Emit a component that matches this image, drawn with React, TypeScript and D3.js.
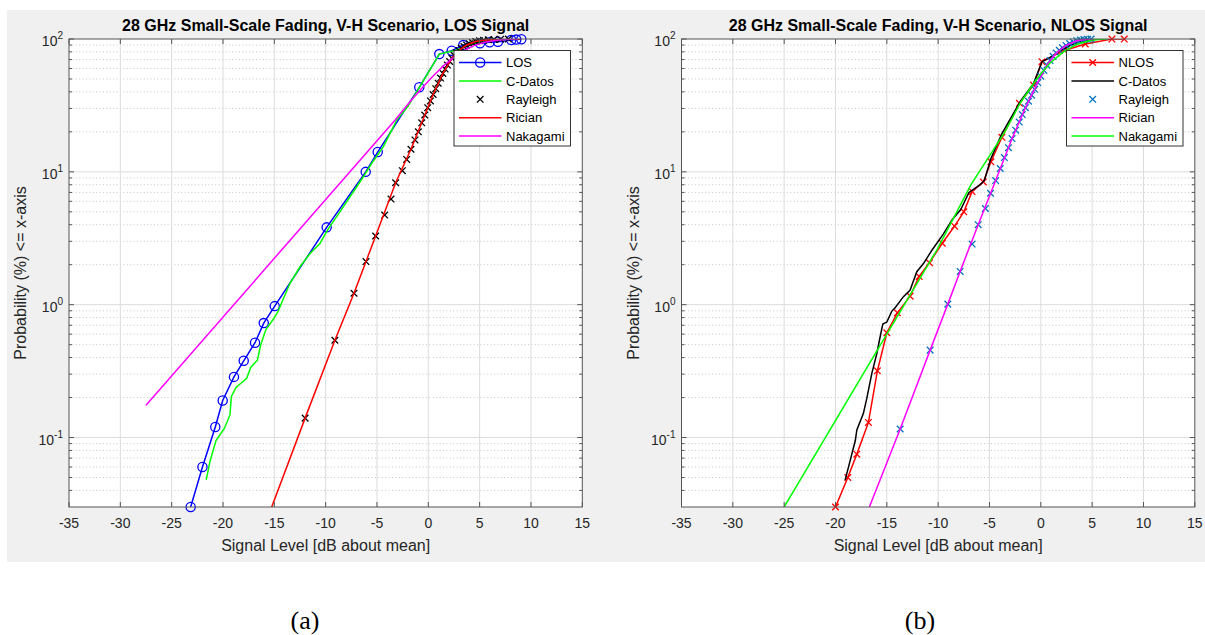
import React from 'react';
import * as d3 from 'd3';

// ---------- axes ----------
const xTicks = [-35, -30, -25, -20, -15, -10, -5, 0, 5, 10, 15];
const yMajorTicks = [0.1, 1, 10, 100];
const yTickExponents = ['-1', '0', '1', '2'];
const xDomain = [-35, 15];
const yDomain = [0.03, 100];

// ---------- (a) LOS ----------
const losX = [-23.15, -22.0, -20.75, -20.03, -18.93, -17.98, -16.88, -16.03, -14.96, -9.9, -6.1, -4.93, -0.88, 1.07, 2.28, 3.41, 5.04, 5.97, 6.78, 8.08, 8.57, 9.06];
const losP = [0.03, 0.06, 0.12, 0.19, 0.286, 0.378, 0.517, 0.727, 0.976, 3.82, 10.0, 14.1, 43.3, 77, 81.6, 90, 92.8, 94.4, 95.4, 98.3, 99, 99.6];

const cdLosX = [-21.63, -21.27, -20.68, -19.87, -19.32, -19.19, -18.73, -17.69, -17.3, -16.65, -16.33, -15.81, -15.03, -14.6, -14.12, -13.47, -12.5, -11.52, -10.55, -9.84, -8.93, -7.63, -6.33, -5.51, -4.38, -3.08, -2.0, -0.88, 1.07, 2.76, 4.0, 5.5, 7.0, 8.5];
const cdLosP = [0.048, 0.066, 0.095, 0.117, 0.148, 0.203, 0.238, 0.279, 0.337, 0.383, 0.497, 0.652, 0.79, 0.9, 1.11, 1.45, 1.93, 2.43, 2.89, 3.63, 4.6, 6.49, 9.18, 11.6, 15.5, 24.5, 31, 43, 77, 82.6, 91, 96.5, 99.3, 100];

const rayLosX = [-12.0, -9.1, -7.24, -6.07, -5.13, -4.25, -3.63, -3.18, -2.53, -2.11, -1.69, -1.3, -0.97, -0.64, -0.35, -0.06, 0.21, 0.47, 0.72, 0.96, 1.19, 1.42, 1.64, 1.86, 2.08, 2.3, 2.52, 2.75, 2.98, 3.22, 3.47, 3.73, 4.0, 4.3, 4.62, 4.98, 5.38, 5.85, 6.4, 7.05, 7.8];
const rayLosP = [0.14, 0.54, 1.22, 2.11, 3.29, 4.73, 6.24, 8.28, 10.2, 12.4, 14.8, 17.4, 20.0, 23.4, 26.8, 30.4, 34.2, 38.2, 42.3, 46.5, 50.8, 55.1, 59.4, 63.6, 67.7, 71.6, 75.3, 78.8, 82.0, 85.0, 87.7, 90.1, 92.2, 94.0, 95.6, 96.9, 97.9, 98.7, 99.3, 99.7, 99.9];

const ricLosX = [-15.4, -12.0, -9.1, -7.24, -5.13, -3.18, -1.69, -0.64, 0.47, 1.42, 2.3, 2.98, 3.73, 4.62, 5.38, 6.4, 7.8, 9.0];
const ricLosP = [0.028, 0.14, 0.54, 1.22, 3.29, 8.28, 14.8, 23.4, 38.2, 55.1, 71.6, 82.0, 90.1, 95.6, 97.9, 99.3, 99.9, 100];

const nakLosX = [-27.5, -3.25, -1.8, -0.7, 0.4, 1.5, 2.5, 3.5, 4.5, 5.5, 6.5, 7.5, 8.7];
const nakLosP = [0.175, 24.5, 33.5, 42, 52, 63, 73, 82, 89.5, 94.5, 97.5, 99.2, 100];

// ---------- (b) NLOS ----------
const nlosX = [-20.0, -18.8, -17.92, -16.79, -15.92, -15.0, -13.97, -12.73, -11.85, -10.85, -9.6, -8.4, -7.5, -6.7, -5.6, -4.86, -3.79, -2.08, -0.71, 0.11, 2.3, 4.33, 6.93, 8.13];
const nlosP = [0.03, 0.05, 0.075, 0.13, 0.318, 0.615, 0.869, 1.16, 1.63, 2.07, 2.9, 3.9, 5.0, 7.1, 8.4, 11.9, 18.2, 32.8, 45, 67.5, 82, 91.7, 99.9, 99.9];

const cdNlosX = [-19.06, -18.56, -18.07, -17.92, -17.28, -16.95, -16.46, -15.97, -15.72, -15.39, -15.0, -14.51, -14.19, -13.38, -12.73, -12.08, -11.43, -10.61, -9.5, -8.6, -7.8, -7.0, -6.0, -5.5, -4.86, -3.79, -2.0, -0.71, 0.11, 0.75, 1.73, 2.8, 3.8, 4.8, 5.8];
const cdNlosP = [0.0478, 0.0676, 0.095, 0.114, 0.152, 0.197, 0.304, 0.43, 0.54, 0.714, 0.74, 0.895, 0.95, 1.15, 1.29, 1.77, 2.04, 2.57, 3.4, 4.4, 5.2, 7.0, 7.9, 8.6, 12.6, 19.4, 33.9, 46.2, 67.5, 71.6, 80, 89, 95.5, 98.8, 100];

const rayNlosX = [-13.7, -10.78, -9.06, -7.86, -6.69, -6.1, -5.4, -4.9, -4.4, -3.95, -3.55, -3.15, -2.8, -2.45, -2.1, -1.8, -1.5, -1.2, -0.9, -0.6, -0.3, 0.0, 0.3, 0.6, 0.9, 1.2, 1.5, 1.8, 2.1, 2.45, 2.8, 3.15, 3.5, 3.85, 4.2, 4.55, 4.9];
const rayNlosP = [0.116, 0.455, 1.01, 1.78, 2.86, 4.0, 5.3, 6.9, 8.6, 10.6, 12.8, 15.2, 17.8, 20.6, 23.7, 27, 30.4, 34, 37.8, 41.8, 47, 52.5, 58, 63.5, 68.8, 74, 78.5, 82.3, 86, 89.5, 92.5, 95, 97, 98.3, 99.1, 99.6, 99.9];

const ricNlosX = [-16.7, -13.7, -10.78, -9.06, -7.86, -6.1, -4.4, -2.8, -1.5, -0.3, 0.6, 1.5, 2.45, 3.5, 4.55, 5.6, 6.5];
const ricNlosP = [0.03, 0.116, 0.455, 1.01, 1.78, 4.0, 8.6, 17.8, 30.4, 47, 63.5, 78.5, 89.5, 97, 99.6, 100, 100];

const nakNlosX = [-25.0, -10.13, -6.8, -3.5, -2.0, -0.4, 0.9, 2.2, 3.5, 4.8, 5.8, 6.5];
const nakNlosP = [0.03, 2.58, 8.0, 20, 33, 50, 66, 80, 91, 97.5, 99.5, 100];

// ---------- layout ----------
const PW = 513.3;
const PT = 39;
const PB = 507;
const FONT = "'Liberation Sans', Arial, Helvetica, sans-serif";
const TXT = '#262626';

type Series = {
  name: string;
  xs: number[];
  ps: number[];
  color: string;
  line: boolean;
  marker: 'o' | 'x' | null;
};

function Marker({ kind, cx, cy, color }: { kind: 'o' | 'x'; cx: number; cy: number; color: string }) {
  if (kind === 'o') {
    return <circle cx={cx} cy={cy} r={4.6} fill="none" stroke={color} strokeWidth={1.3} />;
  }
  const s = 3.3;
  return (
    <g stroke={color} strokeWidth={1.3}>
      <line x1={cx - s} y1={cy - s} x2={cx + s} y2={cy + s} />
      <line x1={cx - s} y1={cy + s} x2={cx + s} y2={cy - s} />
    </g>
  );
}

function Panel({ ox, title, series, id }: { ox: number; title: string; series: Series[]; id: string }) {
  const x = d3.scaleLinear().domain(xDomain).range([ox, ox + PW]);
  const y = d3.scaleLog().domain(yDomain).range([PB, PT]);
  const minor = y.ticks().filter((v) => yMajorTicks.indexOf(v) < 0 && v > yDomain[0] * 1.001 && v < yDomain[1]);
  const line = d3.line<[number, number]>().x((d) => x(d[0])).y((d) => y(d[1]));
  const lx = ox + 385;
  const ly = 50.5;
  return (
    <g>
      <defs>
        <clipPath id={id}>
          <rect x={ox} y={PT} width={PW} height={PB - PT} />
        </clipPath>
      </defs>
      <rect x={ox} y={PT} width={PW} height={PB - PT} fill="#fff" />
      {minor.map((v) => (
        <line key={'mg' + v} x1={ox} x2={ox + PW} y1={y(v)} y2={y(v)} stroke="#b8b8b8" strokeWidth={0.8} strokeDasharray="1 2.4" />
      ))}
      {yMajorTicks.slice(0, 3).map((v) => (
        <line key={'Mg' + v} x1={ox} x2={ox + PW} y1={y(v)} y2={y(v)} stroke="#dcdcdc" strokeWidth={1} />
      ))}
      {xTicks.slice(1, -1).map((v) => (
        <line key={'xg' + v} x1={x(v)} x2={x(v)} y1={PT} y2={PB} stroke="#dcdcdc" strokeWidth={1} />
      ))}
      {series.map((s, i) => {
        const pts = s.xs.map((v, j) => [v, s.ps[j]] as [number, number]);
        return (
          <g key={'s' + i}>
            {s.line && (
              <path d={line(pts) || ''} fill="none" stroke={s.color} strokeWidth={1.5} clipPath={`url(#${id})`} />
            )}
            {s.marker && pts.map((p, j) => <Marker key={j} kind={s.marker!} cx={x(p[0])} cy={y(p[1])} color={s.color} />)}
          </g>
        );
      })}
      <rect x={ox} y={PT} width={PW} height={PB - PT} fill="none" stroke="#555" strokeWidth={1} />
      {xTicks.map((v) => (
        <g key={'xt' + v}>
          <line x1={x(v)} x2={x(v)} y1={PB} y2={PB - 5} stroke="#555" />
          <line x1={x(v)} x2={x(v)} y1={PT} y2={PT + 5} stroke="#555" />
          <text x={x(v)} y={528} textAnchor="middle" fontSize={14} fill={TXT} fontFamily={FONT}>
            {v}
          </text>
        </g>
      ))}
      {yMajorTicks.map((v, i) => (
        <g key={'yt' + v}>
          <line x1={ox} x2={ox + 5} y1={y(v)} y2={y(v)} stroke="#555" />
          <line x1={ox + PW} x2={ox + PW - 5} y1={y(v)} y2={y(v)} stroke="#555" />
          <text x={ox - 6} y={y(v) + 7} textAnchor="end" fontSize={14} fill={TXT} fontFamily={FONT}>
            10
            <tspan dy={-7} fontSize={10}>
              {yTickExponents[i]}
            </tspan>
          </text>
        </g>
      ))}
      {minor.map((v) => (
        <g key={'ym' + v}>
          <line x1={ox} x2={ox + 3} y1={y(v)} y2={y(v)} stroke="#555" />
          <line x1={ox + PW} x2={ox + PW - 3} y1={y(v)} y2={y(v)} stroke="#555" />
        </g>
      ))}
      <text x={ox + PW / 2} y={31} textAnchor="middle" fontSize={16} fontWeight="bold" fill="#000" fontFamily={FONT}>
        {title}
      </text>
      <text x={ox + PW / 2} y={551} textAnchor="middle" fontSize={16} fill={TXT} fontFamily={FONT}>
        Signal Level [dB about mean]
      </text>
      <text
        transform={`translate(${ox - 43},${(PT + PB) / 2}) rotate(-90)`}
        textAnchor="middle"
        fontSize={16}
        fill={TXT}
        fontFamily={FONT}
      >
        {'Probability (%) <= x-axis'}
      </text>
      <rect x={lx} y={ly} width={116.5} height={95.5} fill="#fff" stroke="#333" strokeWidth={1} />
      {series.map((s, i) => {
        const yy = ly + 12 + i * 18.4;
        return (
          <g key={'lg' + i}>
            {s.line && <line x1={lx + 5} x2={lx + 47.5} y1={yy} y2={yy} stroke={s.color} strokeWidth={1.5} />}
            {s.marker && <Marker kind={s.marker} cx={lx + 26.2} cy={yy} color={s.color} />}
            <text x={lx + 52} y={yy + 4.6} fontSize={13} fill="#000" fontFamily={FONT}>
              {s.name}
            </text>
          </g>
        );
      })}
    </g>
  );
}

export default function App() {
  const losSeries: Series[] = [
    { name: 'LOS', xs: losX, ps: losP, color: '#0000ff', line: true, marker: 'o' },
    { name: 'C-Datos', xs: cdLosX, ps: cdLosP, color: '#00ff00', line: true, marker: null },
    { name: 'Rayleigh', xs: rayLosX, ps: rayLosP, color: '#000000', line: false, marker: 'x' },
    { name: 'Rician', xs: ricLosX, ps: ricLosP, color: '#ff0000', line: true, marker: null },
    { name: 'Nakagami', xs: nakLosX, ps: nakLosP, color: '#ff00ff', line: true, marker: null },
  ];
  const nlosSeries: Series[] = [
    { name: 'NLOS', xs: nlosX, ps: nlosP, color: '#ff0000', line: true, marker: 'x' },
    { name: 'C-Datos', xs: cdNlosX, ps: cdNlosP, color: '#000000', line: true, marker: null },
    { name: 'Rayleigh', xs: rayNlosX, ps: rayNlosP, color: '#0072bd', line: false, marker: 'x' },
    { name: 'Rician', xs: ricNlosX, ps: ricNlosP, color: '#ff00ff', line: true, marker: null },
    { name: 'Nakagami', xs: nakNlosX, ps: nakNlosP, color: '#00ff00', line: true, marker: null },
  ];
  return (
    <svg
      width={1205}
      height={635}
      style={{ position: 'absolute', left: 0, top: 0, background: '#fff' }}
      xmlns="http://www.w3.org/2000/svg"
    >
      <rect x={7} y={10} width={1198} height={552} fill="#f0f0f0" />
      <Panel ox={69} title="28 GHz Small-Scale Fading, V-H Scenario, LOS Signal" series={losSeries} id="clipA" />
      <Panel ox={681.5} title="28 GHz Small-Scale Fading, V-H Scenario, NLOS Signal" series={nlosSeries} id="clipB" />
      <text x={305} y={629} textAnchor="middle" fontSize={26} fill="#000" fontFamily="'Liberation Serif', 'Times New Roman', serif">
        (a)
      </text>
      <text x={920} y={629} textAnchor="middle" fontSize={26} fill="#000" fontFamily="'Liberation Serif', 'Times New Roman', serif">
        (b)
      </text>
    </svg>
  );
}
